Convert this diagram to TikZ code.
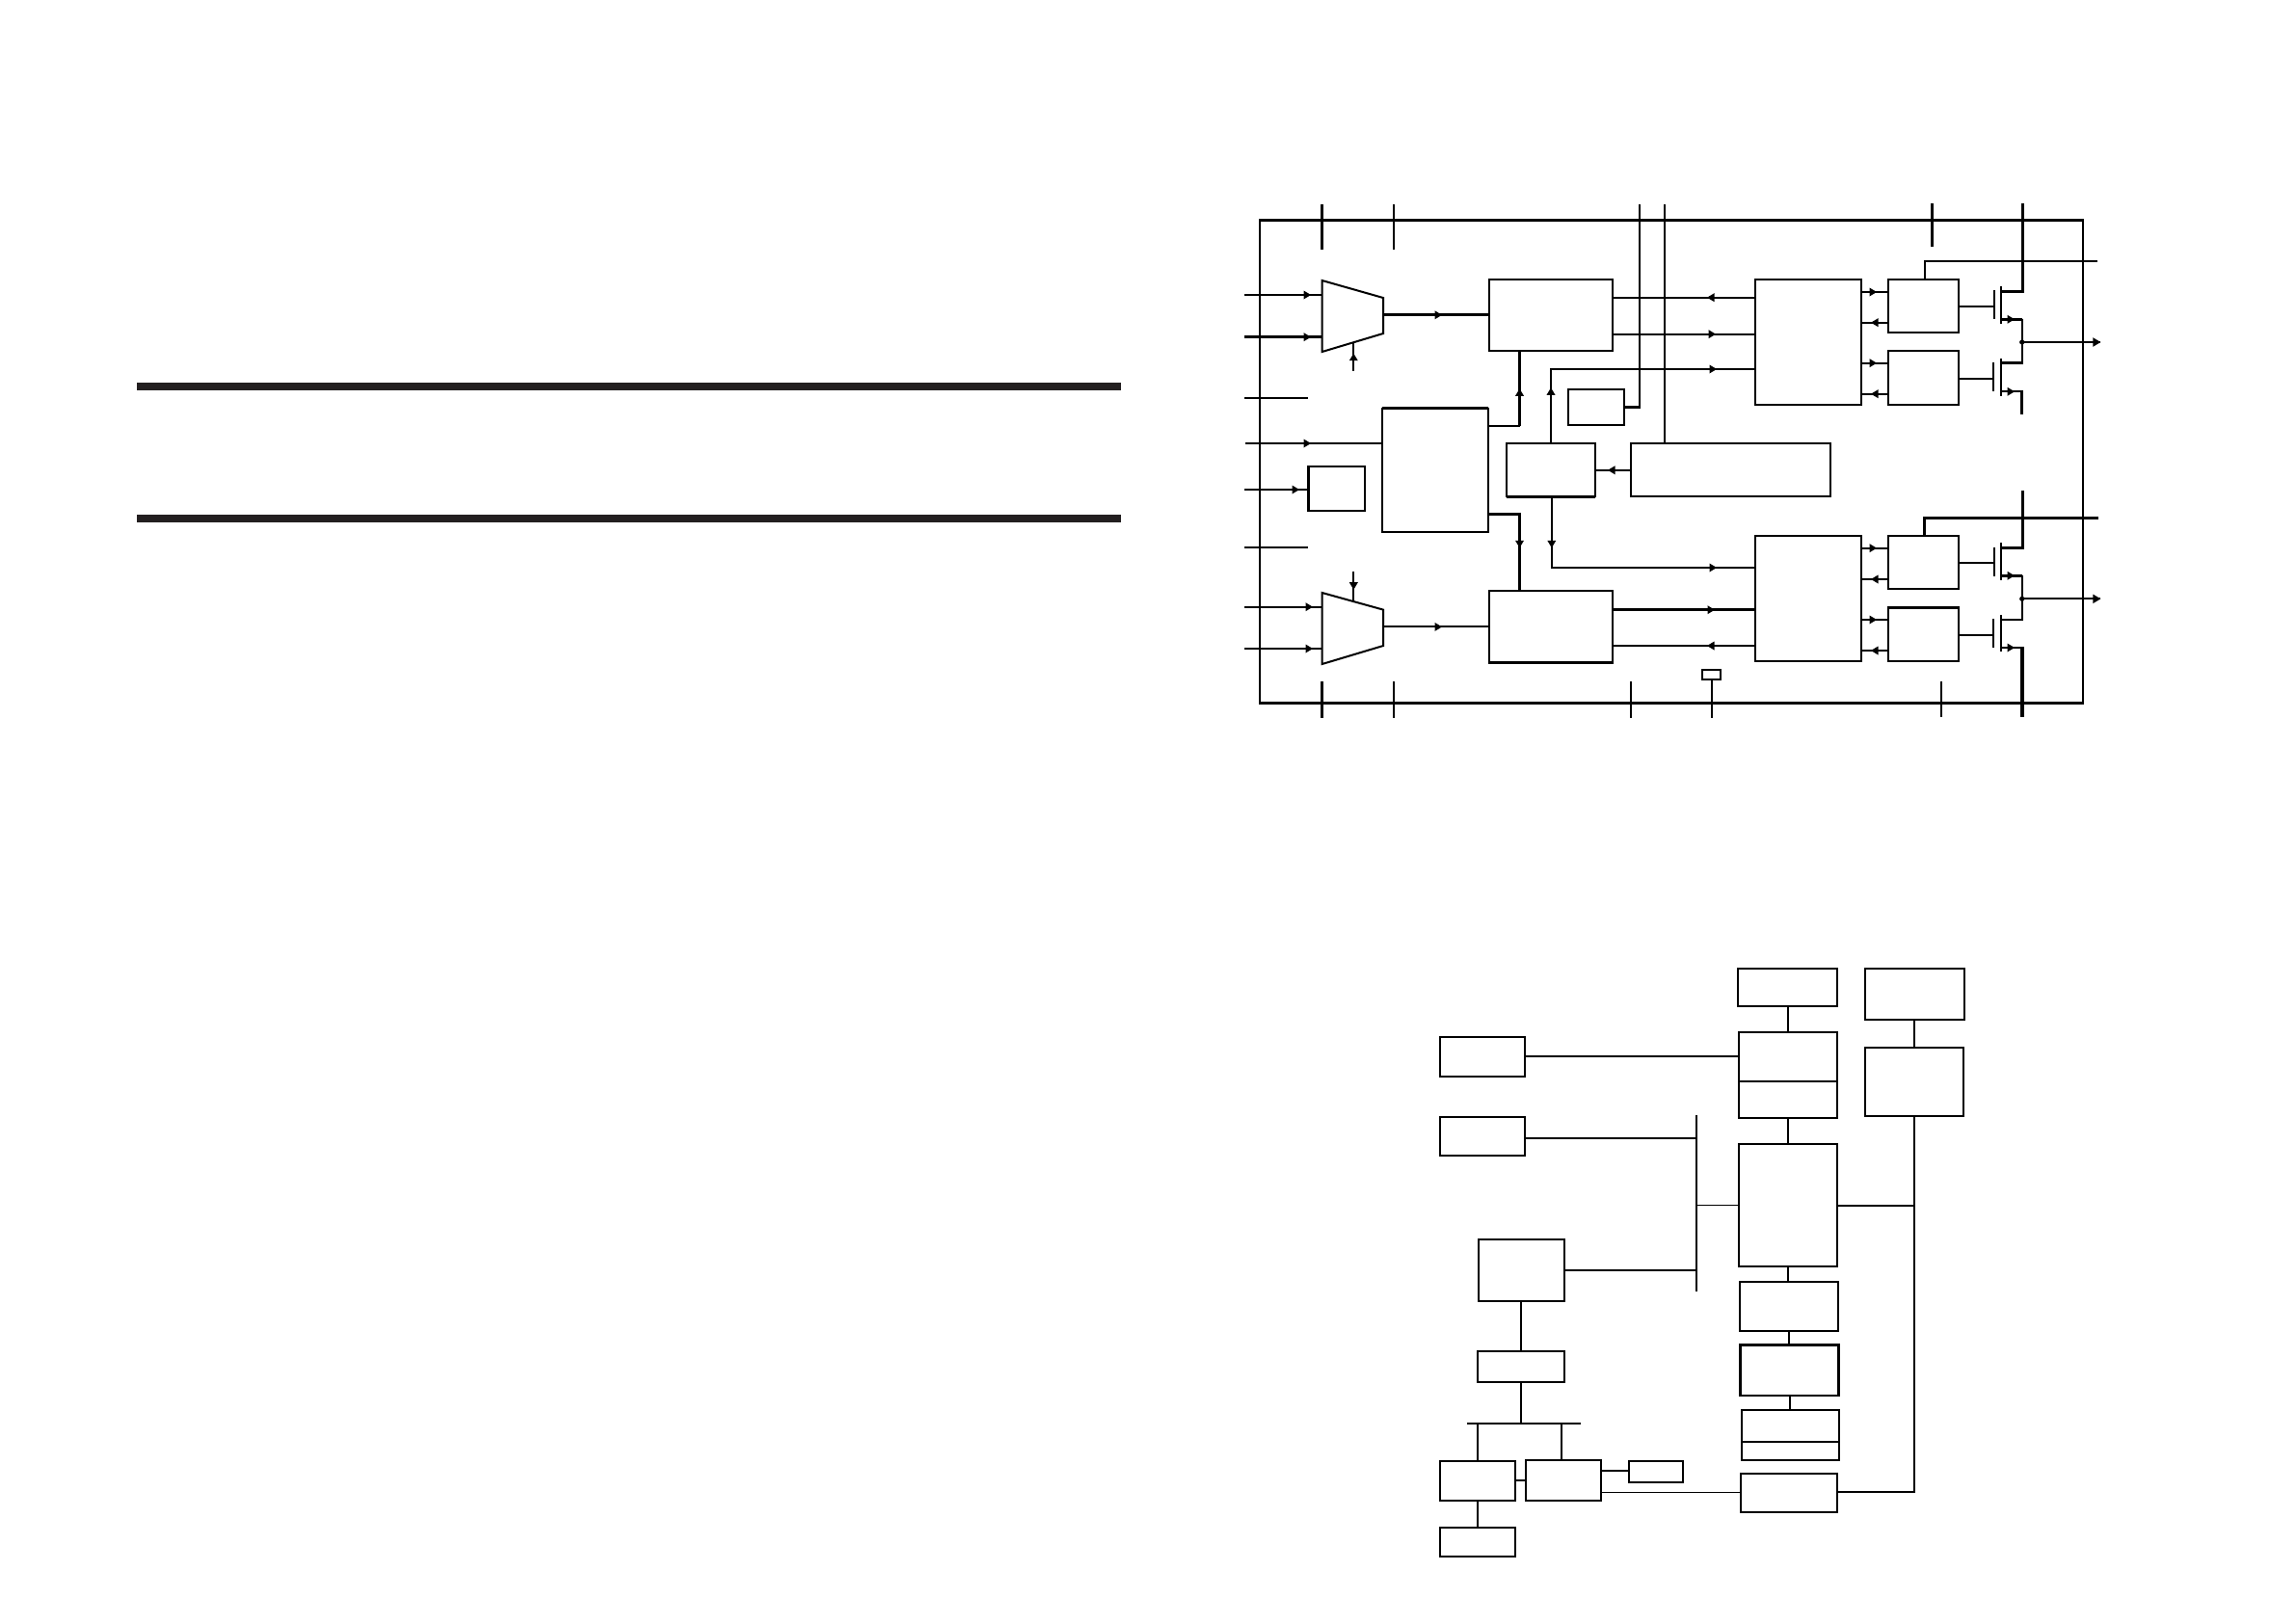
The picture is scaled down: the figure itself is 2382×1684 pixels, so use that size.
\documentclass[tikz,border=0pt]{standalone}
\usetikzlibrary{calc}
\tikzset{
  lwa/.style={line width=0.1mm},
  lwb/.style={line width=0.2mm},
  lwc/.style={line width=0.3mm},
  lwd/.style={line width=0.36mm},
  blockbox/.style={draw=black,fill=white,rectangle,inner sep=0pt,outer sep=0pt,line width=0.2mm},
  conn/.style={draw=black,line width=0.2mm,line cap=butt,line join=miter},
  heavy/.style={draw=black,line width=0.28mm,line join=miter},
  band/.style={fill=barink,draw=none}
}
\definecolor{barink}{HTML}{231F20}
\newcommand{\boxat}[6][]{%
  \pgfmathsetmacro{\myw}{(#5-#3)*0.01}%
  \pgfmathsetmacro{\myh}{(#6-#4)*0.01}%
  \pgfmathsetmacro{\mycx}{(#3+#5)/2}%
  \pgfmathsetmacro{\mycy}{(#4+#6)/2}%
  \node[blockbox,minimum width=\myw cm,minimum height=\myh cm,#1] (#2) at (\mycx,\mycy) {};%
}
\newcommand{\tipat}[3]{\fill[black,shift={(#1,#2)},rotate=#3] (0,0) -- (-7.5,4.5) -- (-7.5,-4.5) -- cycle;}
\newcommand{\bigtip}[3]{\fill[black,shift={(#1,#2)},rotate=#3] (0,0) -- (-8,4.8) -- (-8,-4.8) -- cycle;}
\begin{document}
\begin{tikzpicture}[x=0.01cm,y=-0.01cm]
\useasboundingbox (0,0) rectangle (2382,1684);
% horizontal bars
\fill[band] (142,397) rectangle (1163,405);
\fill[band] (142,534) rectangle (1163,542);

% ===== upper diagram: frame =====
\coordinate (fTL) at (1307,228);
\coordinate (fTR) at (2160.7,228);
\coordinate (fBL) at (1307,729.5);
\coordinate (fBR) at (2160.7,729.5);
\draw[conn] (fTL) -- (fBL);
\draw[conn] (fTR) -- (fBR);
\draw[lwc] (1306,228) -- (2161.7,228);
\draw[lwc] (1306,729.5) -- (2161.7,729.5);

% boxes
\boxat{boxA}{1544.8}{289.7}{1673.4}{364}
\boxat{boxF}{1544.8}{613.2}{1673.4}{687.7}
\boxat{boxB}{1433.8}{423.8}{1544.4}{552.3}
\boxat{boxE}{1357.3}{484.3}{1416}{530}
\boxat{boxD}{1562.8}{460.3}{1655}{515.3}
\boxat{boxW}{1691.7}{460.3}{1899}{515.3}
\boxat{boxS}{1627}{404}{1684.5}{441}
\boxat{boxC}{1820.7}{289.7}{1931.3}{420.3}
\boxat{boxCb}{1820.7}{556}{1931.3}{686}
\boxat{gA}{1958.7}{289.7}{2032.3}{345.3}
\boxat{gB}{1958.7}{364}{2032.3}{420.3}
\boxat{gC}{1958.7}{556}{2032.3}{611}
\boxat{gD}{1958.7}{630.3}{2032.3}{686}
\boxat{boxT}{1766.4}{695}{1785}{705.3}
\draw[heavy] (boxB.north west) -- (boxB.north east);
\draw[heavy] (boxE.north west) -- (boxE.south west);
\draw[heavy] (boxS.north west) -- (boxS.south west);
\draw[heavy] (boxD.south west) -- (boxD.south east);
\draw[heavy] (boxF.south west) -- (boxF.south east);
\draw[heavy] (gC.south west) -- (gC.south east);
\draw[heavy] (gD.north west) -- (gD.north east);

% muxes
\coordinate (m1a) at (1371.6,291);
\coordinate (m1b) at (1435,309);
\coordinate (m1c) at (1435,346);
\coordinate (m1d) at (1371.6,365);
\coordinate (m2a) at (1371.6,615);
\coordinate (m2b) at (1435,632.6);
\coordinate (m2c) at (1435,670);
\coordinate (m2d) at (1371.6,689);
\draw[conn,fill=white] (m1a) -- (m1b) -- (m1c) -- (m1d) -- cycle;
\draw[conn,fill=white] (m2a) -- (m2b) -- (m2c) -- (m2d) -- cycle;

% ticks on the frame
\coordinate (tA) at (1371.4,212);
\coordinate (tAe) at (1371.4,258.7);
\coordinate (tB) at (1446,212);
\coordinate (tBe) at (1446,258.7);
\coordinate (tC) at (2004.3,211);
\coordinate (tCe) at (2004.3,255.7);
\draw[lwc] (tA) -- (tAe);
\draw[conn] (tB) -- (tBe);
\draw[lwc] (tC) -- (tCe);
\coordinate (bA) at (1371.4,707);
\coordinate (bAe) at (1371.4,745);
\coordinate (bB) at (1446,707);
\coordinate (bBe) at (1446,745);
\coordinate (bC) at (1691.7,707);
\coordinate (bCe) at (1691.7,745);
\coordinate (bD) at (2014,707);
\coordinate (bDe) at (2014,743.7);
\coordinate (bE) at (1776,745);
\draw[lwc] (bA) -- (bAe);
\draw[conn] (bB) -- (bBe);
\draw[conn] (bC) -- (bCe);
\draw[conn] (bD) -- (bDe);
\draw[conn] (boxT.south -| bE) -- (bE);

% left-side signals
\coordinate (i1) at (1291,306);
\coordinate (i2) at (1291,349.7);
\coordinate (i3) at (1291,412.7);
\coordinate (i3e) at (1357,412.7);
\coordinate (i4) at (1292,460);
\coordinate (i5) at (1291,508);
\coordinate (i6) at (1291,568);
\coordinate (i6e) at (1357,568);
\coordinate (i7) at (1291,629.7);
\coordinate (i8) at (1291,673);
\draw[conn] (i1) -- (i1 -| m1a); \tipat{1360}{306}{0}
\draw[lwc] (i2) -- (i2 -| m1a); \tipat{1360}{349.7}{0}
\draw[conn] (i3) -- (i3e);
\draw[conn] (i4) -- (i4 -| boxB.west); \tipat{1360}{460}{0}
\draw[conn] (i5) -- (i5 -| boxE.west); \tipat{1348}{508}{0}
\draw[conn] (i6) -- (i6e);
\draw[conn] (i7) -- (i7 -| m2a); \tipat{1362}{629.7}{0}
\draw[conn] (i8) -- (i8 -| m2a); \tipat{1362}{673}{0}

% mux controls and outputs
\coordinate (c1) at (1404.3,384.7);
\coordinate (c1e) at (1404.3,356);
\coordinate (c2) at (1404.3,593.3);
\coordinate (c2e) at (1404.3,623.6);
\draw[conn] (c1) -- (c1e); \tipat{1404.3}{366.7}{90}
\draw[conn] (c2) -- (c2e); \tipat{1404.3}{611.7}{270}
\draw[lwc] (boxA.west) -- (m1c |- boxA.west); \tipat{1496}{326.8}{0}
\draw[conn] (boxF.west) -- (m2c |- boxF.west); \tipat{1496}{650.4}{0}

% box B to A and F
\draw[conn] (boxB.east |- 0,441.7) -- (1576.5,441.7);
\draw[lwc] (1576.5,441.7) -- (boxA.south -| 1576.5,0); \tipat{1576.5}{403.3}{90}
\draw[lwc] (boxB.east |- 0,533.3) -- (1576.5,533.3) -- (boxF.north -| 1576.5,0); \tipat{1576.5}{568.3}{270}

% box D to C and Cb
\draw[conn] (boxD.north -| 1609,0) -- (1609,383) -- (boxC.west |- 0,383); \tipat{1609}{402.3}{90} \tipat{1781}{383}{0}
\draw[conn] (boxD.south -| 1609.8,0) -- (1609.8,589) -- (boxCb.west |- 0,589); \tipat{1609.8}{568.3}{270} \tipat{1781}{589}{0}

% box A / C links and F / Cb links
\draw[conn] (boxC.west |- 0,308.7) -- (boxA.east |- 0,308.7); \tipat{1771}{308.7}{180}
\draw[conn] (boxA.east |- 0,346.7) -- (boxC.west |- 0,346.7); \tipat{1780}{346.7}{0}
\draw[lwc] (boxF.east |- 0,632.7) -- (boxCb.west |- 0,632.7); \tipat{1779}{632.7}{0}
\draw[conn] (boxCb.west |- 0,670) -- (boxF.east |- 0,670); \tipat{1771}{670}{180}

% wide box, small box
\draw[conn] (boxW.west |- boxD.east) -- (boxD.east); \tipat{1668}{487.8}{180}
\coordinate (vW) at (1727.3,212);
\coordinate (vS) at (1701.3,212);
\draw[conn] (vW) -- (boxW.north -| vW);
\draw[conn] (vS) -- (vS |- 0,421.7);
\draw[lwc] (boxS.east) -- (1702.3,422.5);

% C to gate boxes
\draw[conn] (boxC.east |- 0,303) -- (gA.west |- 0,303); \tipat{1947}{303}{0}
\draw[conn] (gA.west |- 0,334.7) -- (boxC.east |- 0,334.7); \tipat{1941}{334.7}{180}
\draw[conn] (boxC.east |- 0,376.7) -- (gB.west |- 0,376.7); \tipat{1947}{376.7}{0}
\draw[conn] (gB.west |- 0,408.7) -- (boxC.east |- 0,408.7); \tipat{1941}{408.7}{180}
\draw[conn] (boxCb.east |- 0,568.7) -- (gC.west |- 0,568.7); \tipat{1947}{568.7}{0}
\draw[conn] (gC.west |- 0,601) -- (boxCb.east |- 0,601); \tipat{1941}{601}{180}
\draw[conn] (boxCb.east |- 0,643) -- (gD.west |- 0,643); \tipat{1947}{643}{0}
\draw[conn] (gD.west |- 0,675) -- (boxCb.east |- 0,675); \tipat{1941}{675}{180}

% supply rails to gate boxes
\coordinate (rA) at (2176,270.7);
\coordinate (rB) at (2176.7,537.3);
\draw[conn] (gA.north -| 1996.7,0) -- (1996.7,270.7) -- (rA);
\draw[lwc] (gC.north -| 1996.7,0) -- (1996.7,537.3) -- (rB);

% transistors, upper pair
\coordinate (dA) at (2098.3,211);
\coordinate (outA) at (2179.3,355);
\coordinate (jA) at (2097.7,355);
\draw[lwd] (dA) -- (2098.3,302.3) -- (2075.7,302.3);
\draw[conn] (gA.east |- 0,317.7) -- (2068.5,317.7);
\draw[conn] (2069,301.3) -- (2069,330.7);
\draw[conn] (2075.7,297.3) -- (2075.7,335.7);
\draw[lwc] (2075.7,331.3) -- (2098,331.3);
\draw[conn] (2098,331.3) -- (2098,376.3);
\draw[lwc] (2075.7,376.3) -- (2098.5,376.3);
\tipat{2090}{331.3}{0}
\draw[conn] (gB.east |- 0,392.7) -- (2067.5,392.7);
\draw[conn] (2067.7,376.3) -- (2067.7,405.7);
\draw[conn] (2075.7,372.3) -- (2075.7,410.7);
\draw[conn] (2075.7,406.3) -- (2098,406.3);
\draw[lwc] (2097.8,405.3) -- (2097.8,430.3);
\tipat{2090}{406.3}{0}
\fill[black] (jA) circle (2.6);
\draw[conn] (jA) -- (outA); \bigtip{2179.3}{355}{0}

% transistors, lower pair
\coordinate (dB) at (2098.3,509);
\coordinate (outB) at (2179.3,621.3);
\coordinate (jB) at (2097.7,621.3);
\coordinate (sB) at (2097.7,743.7);
\draw[lwd] (dB) -- (2098.3,568.3) -- (2075.7,568.3);
\draw[conn] (gC.east |- 0,583.7) -- (2068.5,583.7);
\draw[conn] (2069,568.3) -- (2069,597.7);
\draw[conn] (2075.7,563.3) -- (2075.7,601.7);
\draw[lwc] (2075.7,597.3) -- (2098,597.3);
\draw[conn] (2098,597.3) -- (2098,642.7) -- (2075.7,642.7);
\tipat{2090}{597.3}{0}
\draw[conn] (gD.east |- 0,658.7) -- (2067.5,658.7);
\draw[conn] (2067.7,642.3) -- (2067.7,671.7);
\draw[conn] (2075.7,638.3) -- (2075.7,676.3);
\draw[conn] (2075.7,672) -- (2098,672);
\draw[lwd] (2097.7,671) -- (sB);
\tipat{2090}{672}{0}
\fill[black] (jB) circle (2.6);
\draw[conn] (jB) -- (outB); \bigtip{2179.3}{621.3}{0}

% ===== lower diagram =====
\begin{scope}[shift={(0,1)}]
\boxat{pA}{1803.3}{1004.3}{1906.3}{1043}
\boxat{pB}{1935}{1003.7}{2038.3}{1057}
\boxat{pC}{1935}{1086}{2037}{1157}
\boxat{pD}{1803.7}{1070}{1906.3}{1159}
\boxat{pE}{1803.7}{1186}{1906.3}{1313}
\boxat{rB}{1805.2}{1328.7}{1907.4}{1380}
\boxat[line width=0.25mm]{rC}{1805.6}{1394.7}{1907.4}{1447}
\boxat{rD}{1806.8}{1462}{1908.2}{1513.7}
\boxat{rE}{1806.4}{1528}{1905.5}{1568}
\boxat{lA}{1493.7}{1074.7}{1582}{1116}
\boxat{lB}{1493.7}{1157.7}{1582}{1198.3}
\boxat{lC}{1534}{1285.3}{1623}{1349}
\boxat{lD}{1532.8}{1400.7}{1623}{1433}
\boxat{lE}{1493.7}{1515}{1571.8}{1556}
\boxat{lF}{1583}{1513.7}{1661.3}{1556.3}
\boxat{lG}{1493.7}{1583.7}{1572.2}{1614}
\boxat{lH}{1689.7}{1515}{1746.3}{1537}
\coordinate (pDm) at (1803.7,1121);
\coordinate (pDn) at (1906.3,1121);
\coordinate (rDm) at (1806.8,1494.7);
\coordinate (rDn) at (1908.2,1494.7);
\draw[conn] (pDm) -- (pDn);
\draw[conn] (rDm) -- (rDn);

% vertical chain
\draw[conn] (pA.south) -- (pD.north -| pA.south);
\draw[conn] (pB.south -| 1986,0) -- (pC.north -| 1986,0);
\draw[conn] (pD.south) -- (pE.north -| pD.south);
\draw[conn] (pE.south) -- (rB.north -| pE.south);
\draw[conn] (rB.south -| 1855.8,0) -- (rC.north -| 1855.8,0);
\draw[conn] (rC.south -| 1857,0) -- (1857,1463.3);

% right rail
\coordinate (railT) at (1986,1249.7);
\coordinate (railB) at (1986,1546.7);
\draw[conn] (pC.south -| railT) -- (railB) -- (rE.east |- railB);
\draw[conn] (pE.east |- railT) -- (railT);

% left bus
\coordinate (busT) at (1759.7,1156);
\coordinate (busB) at (1759.7,1338.7);
\draw[conn] (busT) -- (busB);
\draw[conn] (lA.east) -- (pD.west |- lA.east);
\draw[conn] (lB.east |- 0,1180) -- (busT |- 0,1180);
\draw[conn] (lC.east |- 0,1317) -- (busT |- 0,1317);
\draw[lwa] (busT |- 0,1249.3) -- (pE.west |- 0,1249.3);

% lower left tree
\coordinate (treeL) at (1522,1476);
\coordinate (treeR) at (1639.5,1476);
\draw[conn] (treeL) -- (treeR);
\draw[conn] (lC.south -| 1578.3,0) -- (lD.north -| 1578.3,0);
\draw[conn] (lD.south -| 1578.3,0) -- (1578.3,1476);
\draw[conn] (1532.8,1476) -- (lE.north -| 1532.8,0);
\draw[conn] (1620,1476) -- (lF.north -| 1620,0);
\draw[conn] (lE.east |- 0,1534.7) -- (lF.west |- 0,1534.7);
\draw[conn] (lE.south -| 1532.8,0) -- (lG.north -| 1532.8,0);
\draw[conn] (lF.east |- 0,1525) -- (lH.west |- 0,1525);
\draw[lwa] (lF.east |- 0,1547.3) -- (rE.west |- 0,1547.3);
\end{scope}
\end{tikzpicture}
\end{document}
